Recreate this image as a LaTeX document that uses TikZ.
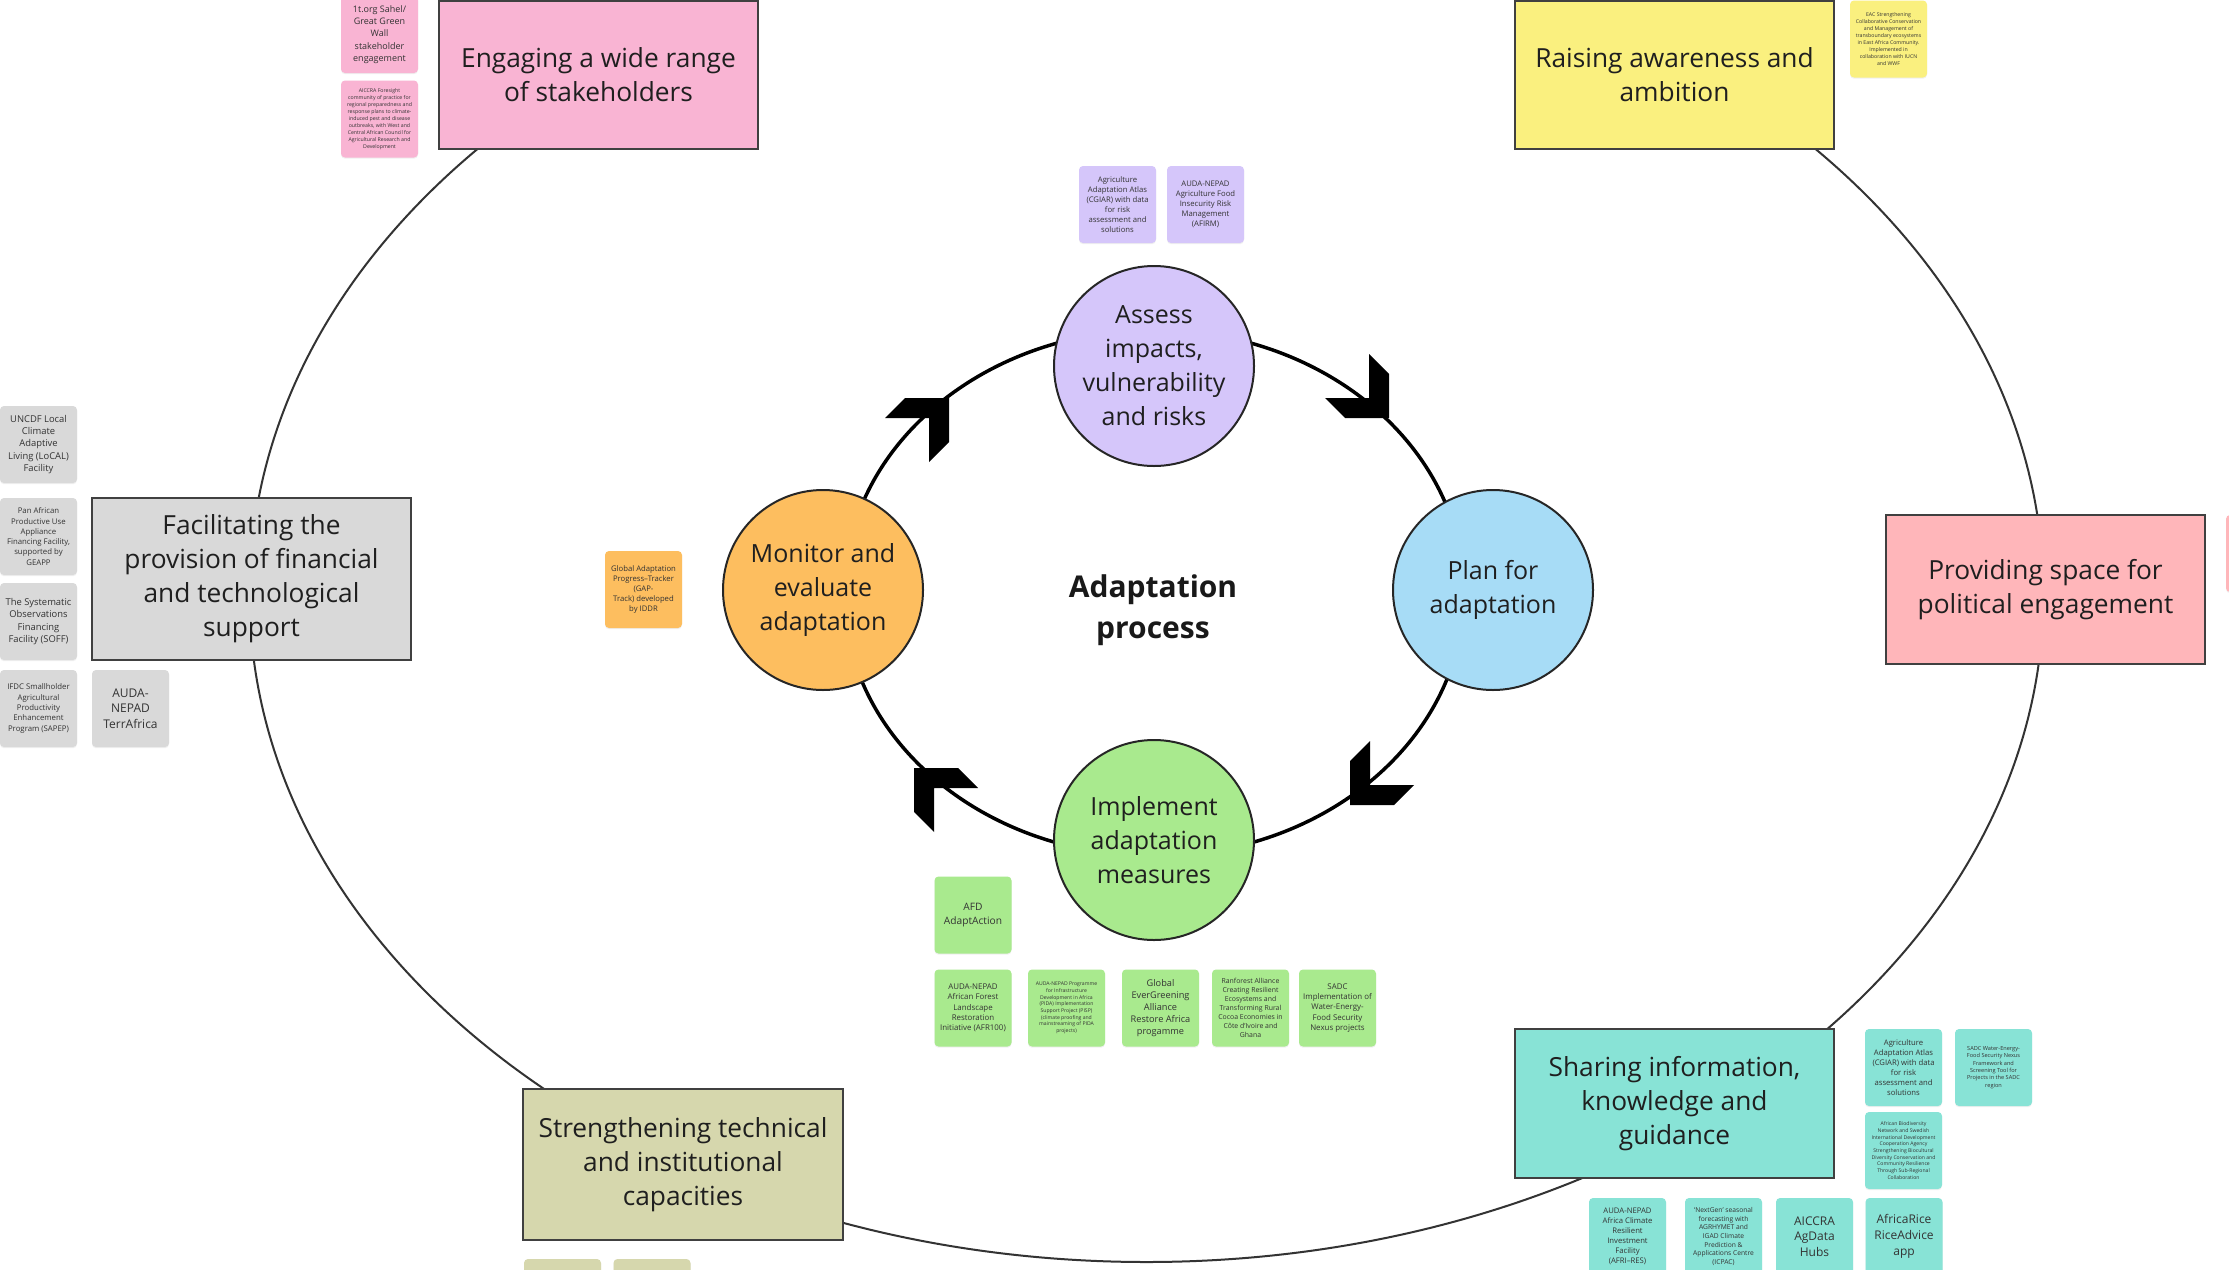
\documentclass[tikz,border=0pt]{standalone}
\usepackage{fontspec}
\setmainfont{Open Sans}
\usetikzlibrary{shapes.geometric,shadows}
\definecolor{boxline}{HTML}{404040}
\definecolor{engc}{HTML}{F9B4D3}
\definecolor{raisec}{HTML}{FAF07F}
\definecolor{facc}{HTML}{D9D9D9}
\definecolor{provc}{HTML}{FFB6BA}
\definecolor{strc}{HTML}{D6D7AD}
\definecolor{sharec}{HTML}{88E3D6}
\definecolor{assessc}{HTML}{D5C6FA}
\definecolor{planc}{HTML}{A7DCF6}
\definecolor{implc}{HTML}{A9EA8E}
\definecolor{monc}{HTML}{FDBE5F}
\tikzset{
  bigbox/.style={draw=boxline, line width=2, minimum width=319, minimum height=149, inner sep=0,
    align=center, font=\fontsize{26.3}{34}\selectfont, text=black!88},
  stage/.style={circle, draw=black!85, line width=2, minimum size=200, inner sep=0, align=center,
    font=\fontsize{25}{34}\selectfont, text=black!88},
  sticky/.style={rounded corners=4, minimum width=77, minimum height=77, inner sep=0, align=center,
    text=black!80, drop shadow={shadow xshift=0pt, shadow yshift=-1.2pt, opacity=0.12}},
  fsz/.style 2 args={font=\fontsize{#1}{#2}\selectfont},
  chev/.pic={\fill[black] (0,0) -- (-44,0) -- (-64,-20) -- (-20,-20) -- (-20,-64) -- (0,-44) -- cycle;}
}
\begin{document}
\begin{tikzpicture}[x=1pt,y=-1pt]
\useasboundingbox (0,0) rectangle (2229,1269);
\fill[white] (0,0) rectangle (2229,1269);

% outer ellipse and inner cycle ring
\node[ellipse, draw=black!80, line width=2, minimum width=1794, minimum height=1336, inner sep=0] (outer) at (1146.5,594) {};
\node[ellipse, draw=black, line width=3.5, minimum width=620, minimum height=526, inner sep=0] (ring) at (1154,593) {};

% big boxes
\node[bigbox, fill=engc, minimum height=148] (engage) at (598.5,75) {Engaging a wide range\\of stakeholders};
\node[bigbox, fill=raisec, minimum height=148] (raise) at (1674.5,75) {Raising awareness and\\ambition};
\node[bigbox, fill=facc, minimum height=162] (facil) at (251.5,579) {Facilitating the\\provision of financial\\and technological\\support};
\node[bigbox, fill=provc] (provide) at (2045.5,589.5) {Providing space for\\political engagement};
\node[bigbox, fill=strc, minimum width=320, minimum height=151] (strength) at (683,1164.5) {Strengthening technical\\and institutional\\capacities};
\node[bigbox, fill=sharec] (share) at (1674.5,1103.5) {Sharing information,\\knowledge and\\guidance};

% stages
\node[stage, fill=assessc] (assess) at (1154,366) {Assess\\impacts,\\vulnerability\\and risks};
\node[stage, fill=planc] (plan) at (1493,590) {Plan for\\adaptation};
\node[stage, fill=implc] (implement) at (1154,840) {Implement\\adaptation\\measures};
\node[stage, fill=monc] (monitor) at (823,590) {Monitor and\\evaluate\\adaptation};
\node[align=center, font=\bfseries\fontsize{30}{41}\selectfont, text=black!90] (centre) at (1153,610) {Adaptation\\process};

% chevrons
\pic at (1389,418) {chev};
\pic[xscale=-1] at (1350,805) {chev};
\pic[xscale=-1,yscale=-1] at (914,768) {chev};
\pic[yscale=-1] at (949,398) {chev};

% sticky notes: pink
\node[sticky, fill=engc, fsz={9}{12.3}] (onet) at (379.5,34.5) {1t.org Sahel/\\Great Green\\Wall\\stakeholder\\engagement};
\node[sticky, fill=engc, fsz={5.2}{7}] (aiccraf) at (379.5,119) {AICCRA Foresight\\community of practice for\\regional preparedness and\\response plans to climate-\\induced pest and disease\\outbreaks, with West and\\Central African Council for\\Agricultural Research and\\Development};
% yellow
\node[sticky, fill=raisec, fsz={5.2}{6.9}] (eac) at (1888.5,39) {EAC Strengthening\\Collaborative Conservation\\and Management of\\transboundary ecosystems\\in East Africa Community.\\Implemented in\\collaboration with IUCN\\and WWF};
% purple
\node[sticky, fill=assessc, fsz={7.7}{10}] (atlasa) at (1117.5,204.5) {Agriculture\\Adaptation Atlas\\(CGIAR) with data\\for risk\\assessment and\\solutions};
\node[sticky, fill=assessc, fsz={7.7}{10}] (afirm) at (1205.5,204.5) {AUDA-NEPAD\\Agriculture Food\\Insecurity Risk\\Management\\(AFIRM)};
% grey
\node[sticky, fill=facc, fsz={9.4}{12.3}] (local) at (38.5,444.5) {UNCDF Local\\Climate\\Adaptive\\Living (LoCAL)\\Facility};
\node[sticky, fill=facc, fsz={7.8}{10.3}] (pan) at (38.5,536.5) {Pan African\\Productive Use\\Appliance\\Financing Facility,\\supported by\\GEAPP};
\node[sticky, fill=facc, fsz={9.4}{12.3}] (soff) at (38.5,621.5) {The Systematic\\Observations\\Financing\\Facility (SOFF)};
\node[sticky, fill=facc, fsz={7.8}{10.3}] (sapep) at (38.5,708.5) {IFDC Smallholder\\Agricultural\\Productivity\\Enhancement\\Program (SAPEP)};
\node[sticky, fill=facc, fsz={12}{15.7}] (terr) at (130.5,708.5) {AUDA-\\NEPAD\\TerrAfrica};
% orange
\node[sticky, fill=monc, fsz={7.7}{10}] (gap) at (643.5,589.5) {Global Adaptation\\Progress–Tracker\\(GAP-\\Track) developed\\by IDDR};
% green
\node[sticky, fill=implc, fsz={10.2}{13.3}] (afd) at (973,915) {AFD\\AdaptAction};
\node[sticky, fill=implc, fsz={7.9}{10.3}] (afr) at (973,1008) {AUDA-NEPAD\\African Forest\\Landscape\\Restoration\\Initiative (AFR100)};
\node[sticky, fill=implc, fsz={5.1}{6.7}] (pida) at (1066.5,1008) {AUDA-NEPAD Programme\\for Infrastructure\\Development in Africa\\(PIDA) Implementation\\Support Project (PISP)\\(climate proofing and\\mainstreaming of PIDA\\projects)};
\node[sticky, fill=implc, fsz={9.2}{12}] (geg) at (1160.5,1008) {Global\\EverGreening\\Alliance\\Restore Africa\\progamme};
\node[sticky, fill=implc, fsz={6.9}{9}] (rain) at (1250.5,1008) {Ranforest Alliance\\Creating Resilient\\Ecosystems and\\Transforming Rural\\Cocoa Economies in\\Côte d'Ivoire and\\Ghana};
\node[sticky, fill=implc, fsz={7.9}{10.3}] (sadca) at (1337.5,1008) {SADC\\Implementation of\\Water-Energy-\\Food Security\\Nexus projects};
% teal
\node[sticky, fill=sharec, fsz={7.7}{10}] (atlasb) at (1903.5,1067.5) {Agriculture\\Adaptation Atlas\\(CGIAR) with data\\for risk\\assessment and\\solutions};
\node[sticky, fill=sharec, fsz={5.6}{7.3}] (sadcb) at (1993.5,1067.5) {SADC Water-Energy-\\Food Security Nexus\\Framework and\\Screening Tool for\\Projects in the SADC\\region};
\node[sticky, fill=sharec, fsz={5.1}{6.7}] (abn) at (1903.5,1150.5) {African Biodiversity\\Network and Swedish\\International Development\\Cooperation Agency\\Strengthening Biocultural\\Diversity Conservation and\\Community Resilience\\Through Sub-Regional\\Collaboration};
\node[sticky, fill=sharec, fsz={7.7}{10}] (afrires) at (1627.5,1236.5) {AUDA-NEPAD\\Africa Climate\\Resilient\\Investment\\Facility\\(AFRI–RES)};
\node[sticky, fill=sharec, fsz={6.7}{8.7}] (nextgen) at (1723.5,1236.5) {‘NextGen’ seasonal\\forecasting with\\AGRHYMET and\\IGAD Climate\\Prediction \&\\Applications Centre\\(ICPAC)};
\node[sticky, fill=sharec, fsz={12}{15.7}] (agdata) at (1814.5,1236.5) {AICCRA\\AgData\\Hubs};
\node[sticky, fill=sharec, fsz={12}{15.7}] (riceadv) at (1904,1236.5) {AfricaRice\\RiceAdvice\\app};
% partial notes at the edges
\node[sticky, fill=strc] (olivea) at (562.5,1297.5) {};
\node[sticky, fill=strc] (oliveb) at (652,1297.5) {};
\node[sticky, fill=provc] (pinkr) at (2264.5,553.5) {};
\end{tikzpicture}
\end{document}
